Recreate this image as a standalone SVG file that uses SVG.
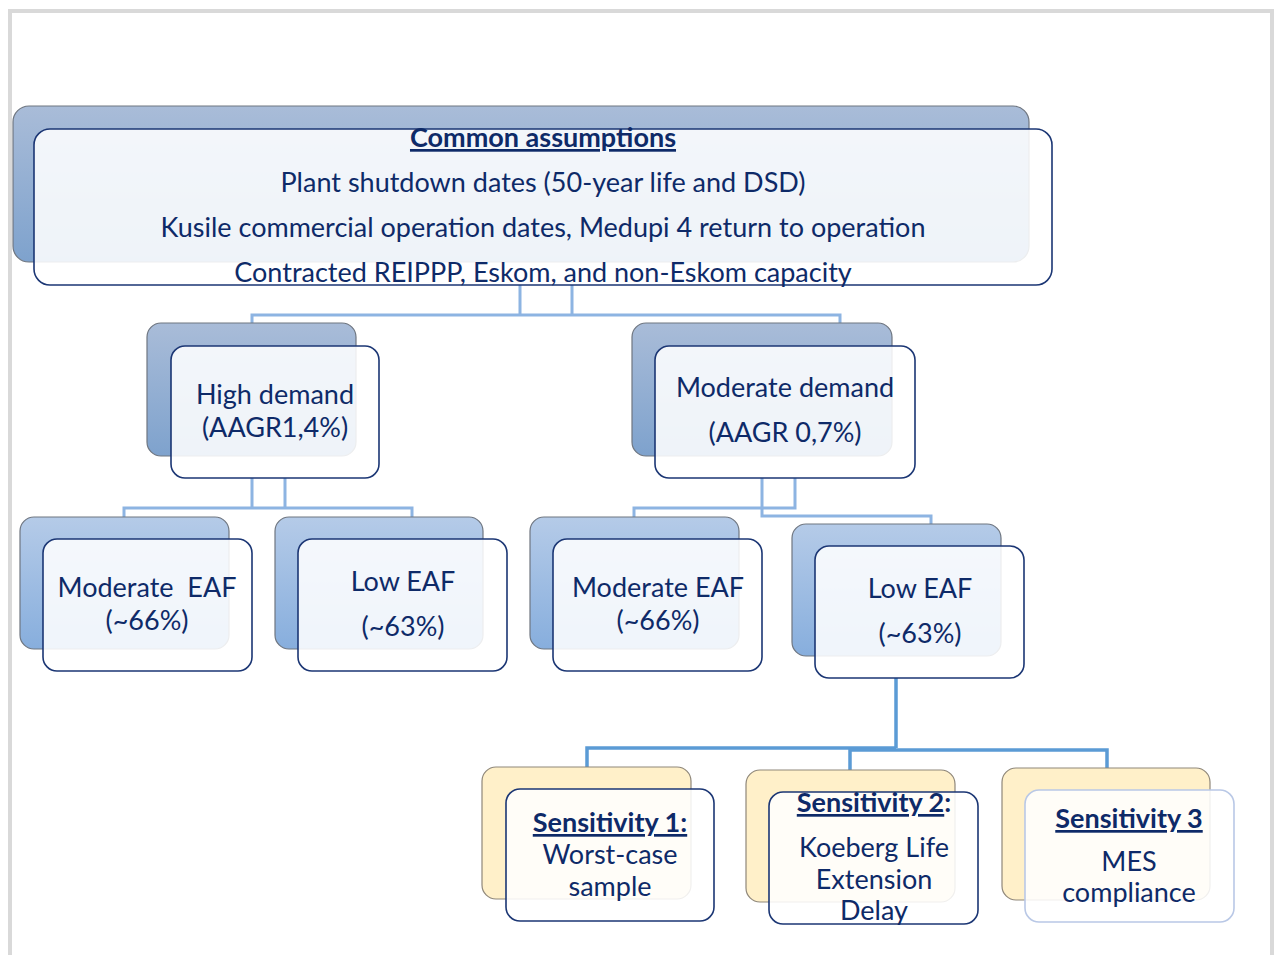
<svg xmlns="http://www.w3.org/2000/svg" width="1277" height="955" viewBox="0 0 1277 955">
<defs>
<linearGradient id="gBlue" x1="0" y1="0" x2="0" y2="1">
<stop offset="0" stop-color="#a9bcd8"/>
<stop offset="1" stop-color="#7ea2cd"/>
</linearGradient>
<linearGradient id="gBlue2" x1="0" y1="0" x2="0" y2="1">
<stop offset="0" stop-color="#b5cbe8"/>
<stop offset="1" stop-color="#87aedd"/>
</linearGradient>
<style>
.back{fill:url(#gBlue);stroke:#6f7680;stroke-width:1.2}
.back2{fill:url(#gBlue2);stroke:#6f7680;stroke-width:1.2}
.backY{fill:#fff0c9;stroke:#8f877a;stroke-width:1.2}
.front{fill:#ffffff;fill-opacity:0.87;stroke:#1b3674;stroke-width:1.6}
.frontL{fill:#ffffff;fill-opacity:0.87;stroke:#b9c8e6;stroke-width:1.6}
.t{font-family:Lato,"Open Sans","Liberation Sans",sans-serif;font-size:27px;fill:#0e2a68;text-anchor:middle}
.b{font-weight:bold;text-decoration:underline}
.c{fill:none;stroke:#8db4e2;stroke-width:3}
.c2{fill:none;stroke:#5b9bd5;stroke-width:3.5}
.frame{fill:none;stroke:#d9d9d9;stroke-width:4}
</style>
</defs>
<rect width="1277" height="955" fill="#ffffff"/>
<path class="frame" d="M10,960 V11 H1272 V960"/>

<g id="connectors">
<path class="c" d="M520,285 V315 M572,285 V315 M252,323 V315 H840 V323"/>
<path class="c" d="M252,478 V508 M285,478 V508 M124,517 V508 H412 V517"/>
<path class="c" d="M795,478 V508 H634 V517 M762,478 V516 H931 V524"/>
<path class="c2" d="M896,678 V748 M587,767 V748 H896"/>
<path class="c2" d="M850,770 V750 H1107 V768"/>
</g>

<g id="common">
<rect class="back" x="13" y="106" width="1016" height="156" rx="16"/>
<rect class="front" x="34" y="129" width="1018" height="156" rx="16"/>
<text class="t b" x="543" y="147">Common assumptions</text>
<text class="t" x="543" y="192">Plant shutdown dates (50-year life and DSD)</text>
<text class="t" x="543" y="237">Kusile commercial operation dates, Medupi 4 return to operation</text>
<text class="t" x="543" y="282">Contracted REIPPP, Eskom, and non-Eskom capacity</text>
</g>

<g id="high-demand">
<rect class="back" x="147" y="323" width="209" height="133" rx="14"/>
<rect class="front" x="171" y="346" width="208" height="132" rx="14"/>
<text class="t" x="275" y="404">High demand</text>
<text class="t" x="275" y="437">(AAGR1,4%)</text>
</g>

<g id="moderate-demand">
<rect class="back" x="632" y="323" width="260" height="133" rx="14"/>
<rect class="front" x="655" y="346" width="260" height="132" rx="14"/>
<text class="t" x="785" y="397">Moderate demand</text>
<text class="t" x="785" y="442">(AAGR 0,7%)</text>
</g>

<g id="hd-moderate-eaf">
<rect class="back2" x="20" y="517" width="209" height="132" rx="14"/>
<rect class="front" x="43" y="539" width="209" height="132" rx="14"/>
<text class="t" x="147" y="597" xml:space="preserve">Moderate  EAF</text>
<text class="t" x="147" y="630">(~66%)</text>
</g>

<g id="hd-low-eaf">
<rect class="back2" x="275" y="517" width="208" height="132" rx="14"/>
<rect class="front" x="298" y="539" width="209" height="132" rx="14"/>
<text class="t" x="403" y="591">Low EAF</text>
<text class="t" x="403" y="636">(~63%)</text>
</g>

<g id="md-moderate-eaf">
<rect class="back2" x="530" y="517" width="209" height="132" rx="14"/>
<rect class="front" x="553" y="539" width="209" height="132" rx="14"/>
<text class="t" x="658" y="597">Moderate EAF</text>
<text class="t" x="658" y="630">(~66%)</text>
</g>

<g id="md-low-eaf">
<rect class="back2" x="792" y="524" width="209" height="132" rx="14"/>
<rect class="front" x="815" y="546" width="209" height="132" rx="14"/>
<text class="t" x="920" y="598">Low EAF</text>
<text class="t" x="920" y="643">(~63%)</text>
</g>

<g id="sensitivity-1">
<rect class="backY" x="482" y="767" width="209" height="132" rx="14"/>
<rect class="front" x="506" y="789" width="208" height="132" rx="14"/>
<text class="t b" x="610" y="832">Sensitivity 1:</text>
<text class="t" x="610" y="864">Worst-case</text>
<text class="t" x="610" y="896">sample</text>
</g>

<g id="sensitivity-2">
<rect class="backY" x="746" y="770" width="209" height="132" rx="14"/>
<rect class="front" x="769" y="792" width="209" height="132" rx="14"/>
<text class="t" x="874" y="812"><tspan class="b">Sensitivity 2</tspan><tspan font-weight="bold">:</tspan></text>
<text class="t" x="874" y="857">Koeberg Life</text>
<text class="t" x="874" y="889">Extension</text>
<text class="t" x="874" y="920">Delay</text>
</g>

<g id="sensitivity-3">
<rect class="backY" x="1002" y="768" width="208" height="132" rx="14"/>
<rect class="frontL" x="1025" y="790" width="209" height="132" rx="14"/>
<text class="t b" x="1129" y="828">Sensitivity 3</text>
<text class="t" x="1129" y="871">MES</text>
<text class="t" x="1129" y="902">compliance</text>
</g>
</svg>
